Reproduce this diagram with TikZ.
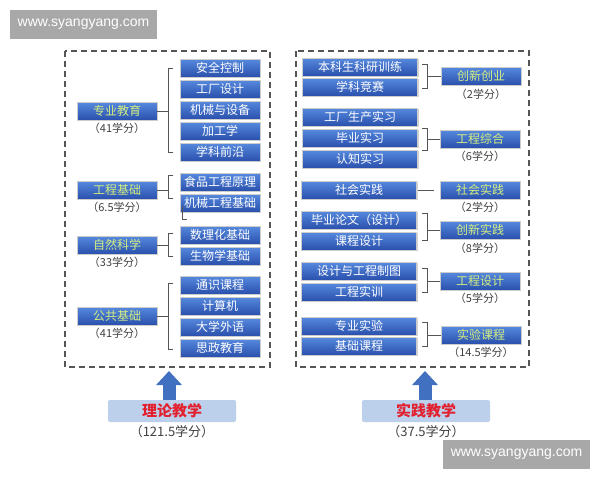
\documentclass[tikz,border=0pt]{standalone}
\usepackage{fontspec}
\setmainfont{Noto Sans CJK SC}
\newfontfamily\websans{Liberation Sans}
\usetikzlibrary{positioning,shadows,arrows.meta}
\definecolor{boxtop}{HTML}{5689DE}
\definecolor{boxbot}{HTML}{2A50AC}
\definecolor{cattext}{HTML}{D4EE80}
\definecolor{framegray}{HTML}{555555}
\definecolor{arrowblue}{HTML}{4270C0}
\definecolor{basefill}{HTML}{BCD0EC}
\definecolor{basetext}{HTML}{E2202E}
\definecolor{markgray}{HTML}{A8A8A8}

\begin{document}
\begin{tikzpicture}[x=1pt, y=-1pt, node distance = 21pt]
	\tikzset{ItemStyle/.style = {
			shape=rectangle,
			draw=white!80!black, line width=0.6pt,
			top color=boxtop, bottom color=boxbot,
			minimum width=80pt, minimum height=18pt, inner sep=0pt,
			text=white, font=\fontsize{12}{12}\selectfont,
			drop shadow={shadow xshift=1.2pt, shadow yshift=-1.2pt, opacity=0.35}
	}}
	\tikzset{WideStyle/.style = {ItemStyle, minimum width=115pt}}
	\tikzset{CatStyle/.style = {ItemStyle, text=cattext, font=\fontsize{12}{12}\selectfont}}
	\tikzset{CreditStyle/.style = {text=black!75, font=\fontsize{11}{11}\selectfont, inner sep=0pt}}
	\tikzset{BracketStyle/.style = {draw=framegray, line width=0.8pt}}
	\tikzset{FrameStyle/.style = {draw=framegray, line width=1.2pt, dash pattern=on 6pt off 4pt}}
	\tikzset{BaseStyle/.style = {
			shape=rectangle, fill=basefill, rounded corners=2pt,
			minimum width=128pt, minimum height=22pt, inner sep=0pt,
			text=basetext, font=\bfseries\fontsize{15}{15}\selectfont
	}}
	\tikzset{ArrowStyle/.style = {-{Triangle[width=25pt,length=14pt]}, line width=13pt, draw=arrowblue}}
	\tikzset{MarkStyle/.style = {
			shape=rectangle, fill=markgray, text=white,
			minimum width=147pt, minimum height=29pt,
			font=\websans\fontsize{14}{14}\selectfont
	}}
	\fill[white] (0,0) rectangle (600,480);
	\useasboundingbox (0,0) rectangle (600,480);

	% frames
	\draw[FrameStyle] (65,51) rectangle (270,367);
	\draw[FrameStyle] (296,51) rectangle (529,367);

	% left panel
	\node[CatStyle] (zy) at (117,111) {专业教育};
	\node[CreditStyle] (zyc) at (117,128) {（41学分）};
	\node[ItemStyle] (aq) at (220,68) {安全控制};
	\node[ItemStyle, below of=aq] (gc) {工厂设计};
	\node[ItemStyle, below of=gc] (jx) {机械与设备};
	\node[ItemStyle, below of=jx] (jg) {加工学};
	\node[ItemStyle, below of=jg] (xk) {学科前沿};

	\node[CatStyle] (gj) at (117,190) {工程基础};
	\node[CreditStyle] (gjc) at (117,207) {（6.5学分）};
	\node[ItemStyle] (sp) at (220,182) {食品工程原理};
	\node[ItemStyle, below of=sp] (jj) {机械工程基础};

	\node[CatStyle] (zr) at (117,245) {自然科学};
	\node[CreditStyle] (zrc) at (117,262) {（33学分）};
	\node[ItemStyle] (sl) at (220,235) {数理化基础};
	\node[ItemStyle, below of=sl] (sw) {生物学基础};

	\node[CatStyle] (gg) at (117,316) {公共基础};
	\node[CreditStyle] (ggc) at (117,333) {（41学分）};
	\node[ItemStyle] (ts) at (220,285) {通识课程};
	\node[ItemStyle, below of=ts] (js) {计算机};
	\node[ItemStyle, below of=js] (dx) {大学外语};
	\node[ItemStyle, below of=dx] (sz) {思政教育};

	\draw[BracketStyle] (173,68) -- (168,68) -- (168,152) -- (173,152);
	\draw[BracketStyle] (173,175) -- (168,175) -- (168,198) -- (173,198);
	\draw[BracketStyle] (182,206) -- (182,219) -- (187,219);
	\draw[BracketStyle] (173,233) -- (168,233) -- (168,256) -- (173,256);
	\draw[BracketStyle] (173,283) -- (168,283) -- (168,349) -- (173,349);
	\coordinate (bzy) at (168,111);
	\coordinate (bgj) at (168,190);
	\coordinate (bzr) at (168,245);
	\coordinate (bgg) at (168,316);
	\path [BracketStyle] (zy) edge (bzy);
	\path [BracketStyle] (gj) edge (bgj);
	\path [BracketStyle] (zr) edge (bzr);
	\path [BracketStyle] (gg) edge (bgg);

	% right panel
	\node[WideStyle] (bk) at (360,67) {本科生科研训练};
	\node[WideStyle, below of=bk, node distance=20pt] (xj) {学科竞赛};
	\node[CatStyle] (cy) at (481,76) {创新创业};
	\node[CreditStyle] (cyc) at (481,94) {（2学分）};

	\node[WideStyle] (gs) at (360,117) {工厂生产实习};
	\node[WideStyle, below of=gs] (bs) {毕业实习};
	\node[WideStyle, below of=bs] (rz) {认知实习};
	\node[CatStyle] (gz) at (480,139) {工程综合};
	\node[CreditStyle] (gzc) at (480,156) {（6学分）};

	\node[WideStyle] (sjx) at (359,190) {社会实践};
	\node[CatStyle] (sjc) at (480,190) {社会实践};
	\node[CreditStyle] (sjcc) at (480,207) {（2学分）};

	\node[WideStyle] (lw) at (359,220) {毕业论文（设计）};
	\node[WideStyle, below of=lw] (kc) {课程设计};
	\node[CatStyle] (cx) at (480,230) {创新实践};
	\node[CreditStyle] (cxc) at (480,248) {（8学分）};

	\node[WideStyle] (zt) at (359,271) {设计与工程制图};
	\node[WideStyle, below of=zt] (sx) {工程实训};
	\node[CatStyle] (gd) at (480,281) {工程设计};
	\node[CreditStyle] (gdc) at (480,298) {（5学分）};

	\node[WideStyle] (zs) at (359,326) {专业实验};
	\node[WideStyle, below of=zs, node distance=20pt] (jc) {基础课程};
	\node[CatStyle] (sy) at (481,335) {实验课程};
	\node[CreditStyle] (syc) at (481,352) {（14.5学分）};

	\draw[BracketStyle] (422,64) -- (427,64) -- (427,88) -- (422,88);
	\draw[BracketStyle] (422,128) -- (427,128) -- (427,150) -- (422,150);
	\draw[BracketStyle] (422,213) -- (427,213) -- (427,240) -- (422,240);
	\draw[BracketStyle] (422,268) -- (427,268) -- (427,292) -- (422,292);
	\draw[BracketStyle] (422,322) -- (427,322) -- (427,346) -- (422,346);
	\coordinate (bcy) at (427,76);
	\coordinate (bgz) at (427,139);
	\coordinate (bcx) at (427,230);
	\coordinate (bgd) at (427,281);
	\coordinate (bsy) at (427,335);
	\path [BracketStyle] (bcy) edge (cy);
	\path [BracketStyle] (bgz) edge (gz);
	\path [BracketStyle] (bcx) edge (cx);
	\path [BracketStyle] (bgd) edge (gd);
	\path [BracketStyle] (bsy) edge (sy);
	\path [BracketStyle] (sjx) edge[shorten <=1pt, shorten >=6pt] (sjc);

	% bottom
	\node[BaseStyle] (ll) at (172,411) {理论教学};
	\node[CreditStyle, font=\fontsize{13}{13}\selectfont] (llc) at (172,432) {（121.5学分）};
	\node[BaseStyle] (sj) at (426,411) {实践教学};
	\node[CreditStyle, font=\fontsize{13}{13}\selectfont] (sjc2) at (426,432) {（37.5学分）};
	\coordinate (lltip) at (169,371);
	\coordinate (sjtip) at (425,371);
	\draw[ArrowStyle] (ll.north -| lltip) -- (lltip);
	\draw[ArrowStyle] (sj.north -| sjtip) -- (sjtip);

	% watermarks
	\node[MarkStyle] (wm1) at (83.5,24.5) {www.syangyang.com};
	\node[MarkStyle] (wm2) at (516.5,454) {www.syangyang.com};
\end{tikzpicture}
\end{document}
